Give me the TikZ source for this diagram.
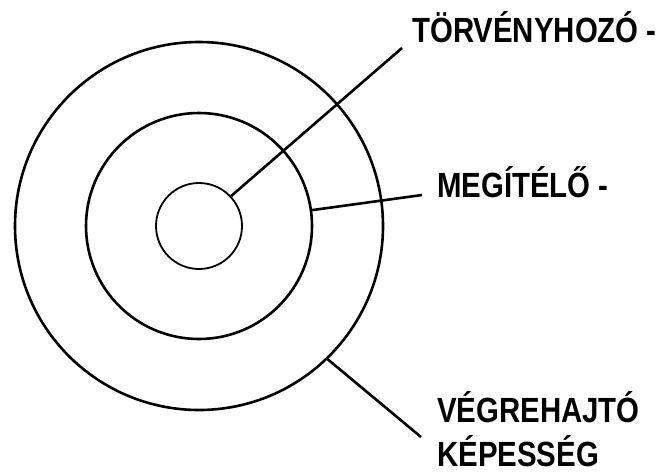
\documentclass[tikz,border=0pt]{standalone}
\usepackage{fontspec}
\newfontfamily\lblfont{Liberation Sans}[FakeStretch=0.84]
\begin{document}
\begin{tikzpicture}[x=1pt,y=-1pt]
	\tikzstyle{ring}=[circle,draw=black,line width=2.6pt,inner sep=0pt]
	\tikzstyle{lbl}=[anchor=base west,inner sep=0pt,align=left,font=\lblfont\bfseries\fontsize{35}{44}\selectfont]
	\useasboundingbox (0,0) rectangle (670,472);
	\node[ring,minimum size=368pt](c3) at (199,226) {};
	\node[ring,minimum size=226pt](c2) at (199,226) {};
	\node[ring,line width=1.8pt,minimum size=86pt](c1) at (199,226) {};
	\coordinate (p1) at (402,48);
	\coordinate (p2) at (422,195);
	\coordinate (p3) at (421,437);
	\node[lbl](t1) at (412,42) {TÖRVÉNYHOZÓ -};
	\node[lbl](t2) at (437,197) {MEGÍTÉLŐ -};
	\node[lbl](t3) at (437,466) {VÉGREHAJTÓ\\KÉPESSÉG};
	\draw[line width=2.6pt](c1.43) -- (p1);
	\draw[line width=2.6pt](c2.8) -- (p2);
	\draw[line width=2.6pt](c3.-46) -- (p3);
\end{tikzpicture}
\end{document}
